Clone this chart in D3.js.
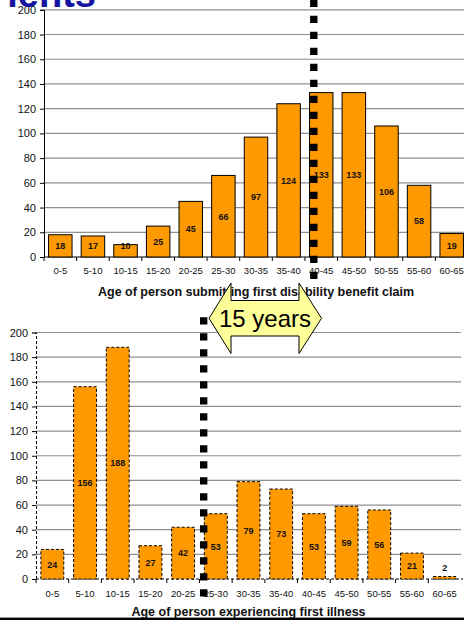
<!DOCTYPE html>
<html>
<head>
<meta charset="utf-8">
<script src="https://cdn.jsdelivr.net/npm/d3@7"></script>
<style>
  html, body { margin: 0; padding: 0; background: #fff; }
  svg { display: block; }
  text { font-family: Arial, "Liberation Sans", sans-serif; }
</style>
</head>
<body>
<svg id="chart" width="464" height="620"></svg>
<script>
const categories = ["0-5","5-10","10-15","15-20","20-25","25-30","30-35","35-40","40-45","45-50","50-55","55-60","60-65"];
const claimValues = [18,17,10,25,45,66,97,124,133,133,106,58,19];
const illnessValues = [24,156,188,27,42,53,79,73,53,59,56,21,2];
const yTicks = [0,20,40,60,80,100,120,140,160,180,200];
const topTitle = "Age of person submitting first disability benefit claim";
const bottomTitle = "Age of person experiencing first illness";
const headerText = "ients";
const arrowLabel = "15 years";

const svg = d3.select("#chart");
const orange = "#FF9900";
const gridColor = "#8f8f8f";

function drawPanel(cfg) {
  const g = svg.append("g");
  const x = d3.scaleBand().domain(categories).range([cfg.x0, cfg.x1])
    .paddingInner(cfg.pad).paddingOuter(cfg.pad / 2);
  const y = d3.scaleLinear().domain([0, 200]).range([cfg.yBottom, cfg.yTop]);

  g.append("g").selectAll("line").data(yTicks.filter(t => t > 0)).join("line")
    .attr("x1", cfg.x0).attr("x2", cfg.gridEnd)
    .attr("y1", d => y(d)).attr("y2", d => y(d))
    .attr("stroke", gridColor).attr("stroke-width", 1.2);

  const yAxis = g.append("g").attr("transform", `translate(${cfg.x0},0)`)
    .call(d3.axisLeft(y).tickValues(yTicks).tickSize(4).tickPadding(4));
  yAxis.select(".domain").attr("stroke", "#000").attr("stroke-dasharray", cfg.dash);
  yAxis.selectAll(".tick line").attr("stroke", "#000");
  yAxis.selectAll(".tick text").attr("font-size", 11).attr("fill", "#111")
    .attr("font-family", "Arial, 'Liberation Sans', sans-serif");

  const xAxisG = g.append("g");
  xAxisG.append("line").attr("x1", cfg.x0).attr("x2", cfg.x1 + 2)
    .attr("y1", y(0)).attr("y2", y(0)).attr("stroke", "#000")
    .attr("stroke-dasharray", cfg.dash);
  const bounds = categories.map(c => x(c) - x.step() * x.paddingInner() / 2);
  xAxisG.selectAll("line.tk").data(bounds).join("line").attr("class", "tk")
    .attr("x1", d => d).attr("x2", d => d)
    .attr("y1", y(0)).attr("y2", y(0) + 4).attr("stroke", "#000");
  xAxisG.selectAll("text").data(categories).join("text")
    .attr("x", d => x(d) + x.bandwidth() / 2).attr("y", cfg.labelY)
    .attr("text-anchor", "middle").attr("font-size", 9.5).attr("fill", "#111")
    .text(d => d);

  g.append("g").selectAll("rect").data(cfg.values).join("rect")
    .attr("x", (d, i) => x(categories[i]))
    .attr("y", d => y(d))
    .attr("width", x.bandwidth())
    .attr("height", d => y(0) - y(d))
    .attr("fill", orange).attr("stroke", "#000").attr("stroke-width", 1)
    .attr("stroke-dasharray", cfg.dash);

  g.append("g").selectAll("text").data(cfg.values).join("text")
    .attr("x", (d, i) => x(categories[i]) + x.bandwidth() / 2)
    .attr("y", d => Math.min((y(d) + y(0)) / 2, y(0) - 11) + 3.3)
    .attr("text-anchor", "middle").attr("font-size", 9).attr("font-weight", "bold")
    .attr("fill", "#111").text(d => d);

  g.append("text").attr("x", (cfg.x0 + cfg.x1) / 2).attr("y", cfg.titleY)
    .attr("text-anchor", "middle").attr("font-size", 12.5).attr("font-weight", "bold")
    .attr("fill", "#111").text(cfg.title);

  return { x, y };
}

const topPanel = drawPanel({
  x0: 44, x1: 468, gridEnd: 468, pad: 0.28, yBottom: 257, yTop: 9.8,
  dash: null, labelY: 273.5, titleY: 295.5, values: claimValues, title: topTitle
});
const botPanel = drawPanel({
  x0: 36, x1: 461, gridEnd: 461, pad: 0.3, yBottom: 579, yTop: 332.5,
  dash: "3,2", labelY: 597, titleY: 616, values: illnessValues, title: bottomTitle
});

const topLineX = topPanel.x("40-45") + 4.3;
const botLineX = botPanel.x("25-30") - 0.7;
svg.append("line").attr("x1", topLineX).attr("x2", topLineX)
  .attr("y1", -0.3).attr("y2", 279.5)
  .attr("stroke", "#000").attr("stroke-width", 7.4).attr("stroke-dasharray", "7.3,8.7");
svg.append("line").attr("x1", botLineX).attr("x2", botLineX)
  .attr("y1", 317.3).attr("y2", 597)
  .attr("stroke", "#000").attr("stroke-width", 7.4).attr("stroke-dasharray", "7.3,8.7");

const arrowPts = [[209,318.3],[231,283],[231,300.5],[299,300.5],[299,283],[321.5,318.3],
                  [299,353.5],[299,336],[231,336],[231,353.5]];
svg.append("polygon").attr("points", arrowPts.map(p => p.join(",")).join(" "))
  .attr("fill", "#FFFF99").attr("stroke", "#000").attr("stroke-width", 1);
svg.append("text").attr("x", 265).attr("y", 326.5).attr("text-anchor", "middle")
  .attr("font-size", 24).attr("fill", "#000").text(arrowLabel);

svg.append("text").attr("x", 96).attr("y", 7).attr("text-anchor", "end")
  .attr("font-size", 38).attr("font-weight", "bold").attr("fill", "#1414a0").text(headerText);

svg.append("rect").attr("x", 0).attr("y", 617.6).attr("width", 464).attr("height", 2.4).attr("fill", "#000");
</script>
</body>
</html>
